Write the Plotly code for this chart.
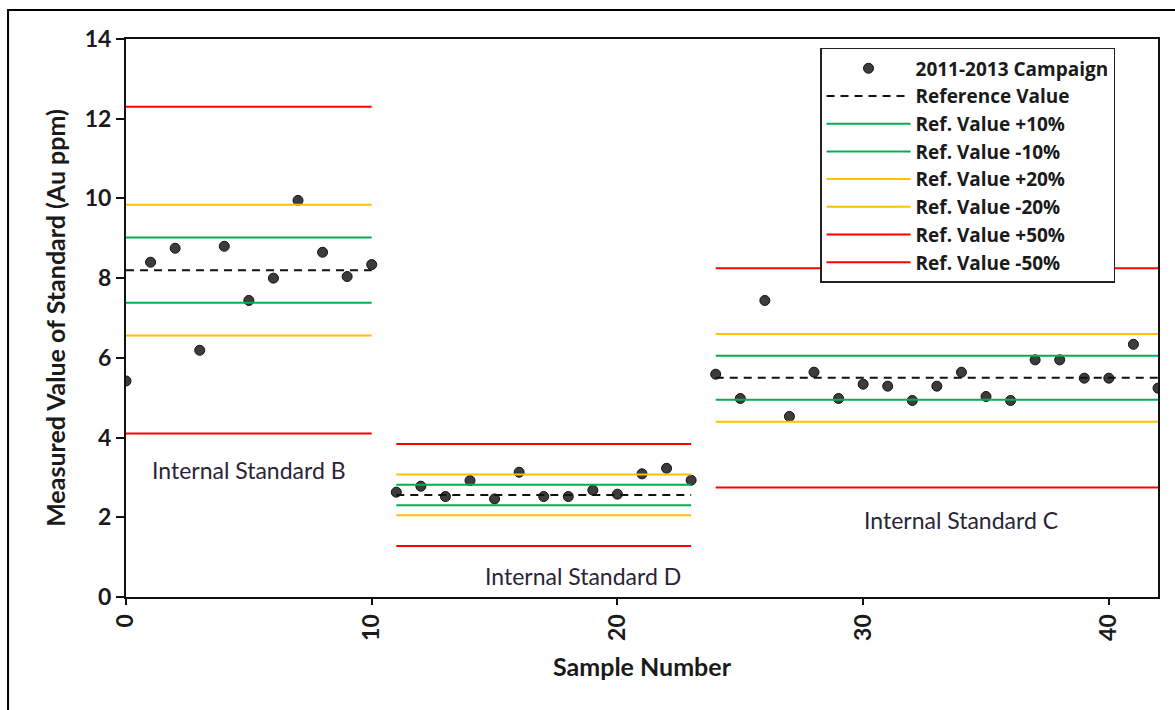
import plotly.graph_objects as go

# Sample numbers and measured Au values for each internal standard
samples_b = list(range(0, 11))
values_b = [5.42, 8.40, 8.75, 6.19, 8.80, 7.44, 8.00, 9.95, 8.65, 8.04, 8.34]

samples_d = list(range(11, 24))
values_d = [2.63, 2.78, 2.52, 2.92, 2.46, 3.13, 2.52, 2.52, 2.68, 2.58, 3.09, 3.23, 2.93]

samples_c = list(range(24, 43))
values_c = [5.59, 4.98, 7.44, 4.53, 5.64, 4.98, 5.34, 5.29, 4.93, 5.29,
            5.64, 5.03, 4.93, 5.95, 5.95, 5.49, 5.49, 6.34, 5.24]

# Reference value of each standard and the sample range it covers
standard_names = ["Internal Standard B", "Internal Standard D", "Internal Standard C"]
reference_values = [8.2, 2.56, 5.5]
segment_ranges = [(0, 10), (11, 23), (24, 42)]

# Tolerance bands drawn around each reference value
band_labels = ["Ref. Value +10%", "Ref. Value -10%", "Ref. Value +20%",
               "Ref. Value -20%", "Ref. Value +50%", "Ref. Value -50%"]
band_factors = [1.10, 0.90, 1.20, 0.80, 1.50, 0.50]
band_colors = ["#00B050", "#00B050", "#FFC000", "#FFC000", "#FF0000", "#FF0000"]

FONT = "Lato"
LEGEND_FONT = "Open Sans"
TEXT = "#1a1a1a"


def segmented(factor):
    xs, ys = [], []
    for (x0, x1), ref in zip(segment_ranges, reference_values):
        xs += [x0, x1, None]
        ys += [ref * factor, ref * factor, None]
    return xs, ys


fig = go.Figure()

fig.add_trace(go.Scatter(
    x=samples_b + samples_d + samples_c,
    y=values_b + values_d + values_c,
    mode="markers",
    name="2011-2013 Campaign",
    marker=dict(size=10, color="#3c3c3c", line=dict(color="#111111", width=1)),
))

rx, ry = segmented(1.0)
fig.add_trace(go.Scatter(
    x=rx, y=ry, mode="lines", name="Reference Value",
    line=dict(color="#111111", width=2, dash="8px,6px"),
    connectgaps=False,
))

for label, factor, color in zip(band_labels, band_factors, band_colors):
    bx, by = segmented(factor)
    fig.add_trace(go.Scatter(
        x=bx, y=by, mode="lines", name=label,
        line=dict(color=color, width=2), connectgaps=False,
    ))

# Group labels under each standard's points
label_pos = [(5.0, 3.19), (18.6, 0.53), (34.0, 1.93)]
for name, (lx, ly) in zip(standard_names, label_pos):
    fig.add_annotation(x=lx, y=ly, text=name, showarrow=False,
                       font=dict(family=FONT, size=23, color="#2a2438"))

# Outer frame around the figure
fig.add_shape(type="rect", xref="paper", yref="paper",
              x0=-0.1143, x1=1.03, y0=-0.22, y1=1.052,
              line=dict(color="#000000", width=2), layer="below")

fig.update_layout(
    width=1175, height=710,
    margin=dict(l=126, r=17, t=39, b=113),
    paper_bgcolor="white", plot_bgcolor="white",
    font=dict(family=FONT, color=TEXT),
    showlegend=True,
    legend=dict(
        x=0.6725, y=0.984, xanchor="left", yanchor="top",
        bgcolor="white", bordercolor="#222222", borderwidth=1.5,
        font=dict(family=LEGEND_FONT, size=19, color=TEXT, weight="bold"),
        tracegroupgap=0, itemwidth=84,
    ),
    xaxis=dict(
        range=[0, 42], tickvals=[0, 10, 20, 30, 40], tickangle=-90,
        showgrid=False, zeroline=False,
        showline=True, linecolor="#111111", linewidth=2, mirror=True,
        ticks="outside", ticklen=6, tickcolor="#111111", tickwidth=1.5,
        tickfont=dict(family=FONT, size=23, color=TEXT, weight="bold"),
        title=dict(text="Sample Number", standoff=19,
                   font=dict(family=FONT, size=25, color=TEXT, weight="bold")),
    ),
    yaxis=dict(
        range=[0, 14], tickvals=[0, 2, 4, 6, 8, 10, 12, 14],
        showgrid=False, zeroline=False,
        showline=True, linecolor="#111111", linewidth=2, mirror=True,
        ticks="outside", ticklen=8, tickcolor="#111111", tickwidth=1.5,
        tickfont=dict(family=FONT, size=23, color=TEXT, weight="bold"),
        title=dict(text="Measured Value of Standard (Au ppm)", standoff=12,
                   font=dict(family=FONT, size=25, color=TEXT, weight="bold")),
    ),
)

fig.write_html("out.html")
